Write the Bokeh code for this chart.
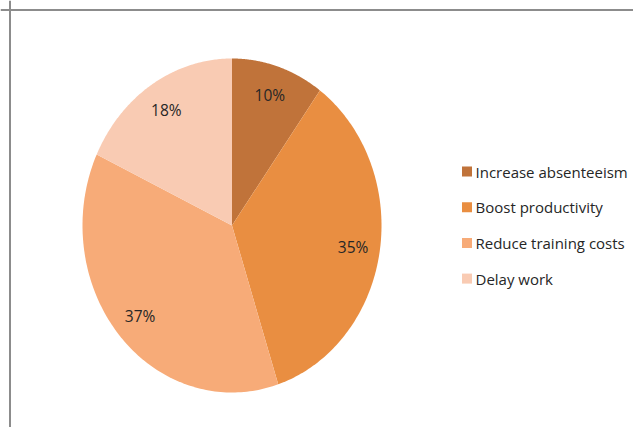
import numpy as np
from bokeh.plotting import figure
from bokeh.models import Range1d, Span, ColumnDataSource
from bokeh.core.properties import value
from bokeh.embed import file_html
from bokeh.resources import INLINE

# ---- data ----
categories = ["Increase absenteeism", "Boost productivity", "Reduce training costs", "Delay work"]
shares = [10, 35, 37, 18]
labels = ["10%", "35%", "37%", "18%"]
colors = ["#C0733A", "#E98E41", "#F7AB78", "#F9CBB3"]

W, H = 633, 427
p = figure(width=W, height=H, output_backend="svg", toolbar_location=None,
           x_range=Range1d(0, W), y_range=Range1d(H, 0), min_border=0)
p.axis.visible = False
p.grid.visible = False
p.outline_line_color = None
p.background_fill_color = "white"
p.border_fill_color = "white"

# pie geometry (ellipse, as in the reference)
cx, cy, rx, ry = 231.5, 225.0, 149.5, 167.0
vals = np.array(shares, dtype=float)
frac = vals / vals.sum()
cum = np.concatenate([[0.0], np.cumsum(frac)])

xs, ys = [], []
for i in range(len(vals)):
    a = np.linspace(cum[i], cum[i + 1], 120) * 2 * np.pi
    px = np.concatenate([[cx], cx + rx * np.sin(a)])
    py = np.concatenate([[cy], cy - ry * np.cos(a)])
    xs.append(list(px)); ys.append(list(py))

p.patches(xs=xs, ys=ys, fill_color=colors, line_color=None)

# data labels
mid = (cum[:-1] + cum[1:]) / 2 * 2 * np.pi
lr = 0.82
lsrc = ColumnDataSource(dict(x=cx + lr * rx * np.sin(mid), y=cy - lr * ry * np.cos(mid), t=labels))
p.text(x="x", y="y", text="t", source=lsrc, text_align="center", text_baseline="middle",
       text_font=value("Open Sans"), text_font_size="15.5px", text_color="#262626")

# legend
ly0, lstep = 171.0, 35.7
ly = [ly0 + i * lstep for i in range(len(categories))]
gsrc = ColumnDataSource(dict(x=[466.5] * len(categories), y=ly, c=colors, t=categories,
                             tx=[475] * len(categories)))
p.scatter(x="x", y="y", source=gsrc, marker="square", size=10, fill_color="c", line_color=None)
p.text(x="tx", y="y", text="t", source=gsrc, text_align="left", text_baseline="middle",
       text_font=value("Open Sans"), text_font_size="15px", text_color="#262626")

# frame border (top and left visible)
p.add_layout(Span(location=9.5, dimension="width", line_color="#8c8c8c", line_width=2))
p.add_layout(Span(location=9.5, dimension="height", line_color="#8c8c8c", line_width=2))

open("out.html", "w").write(file_html(p, INLINE))
